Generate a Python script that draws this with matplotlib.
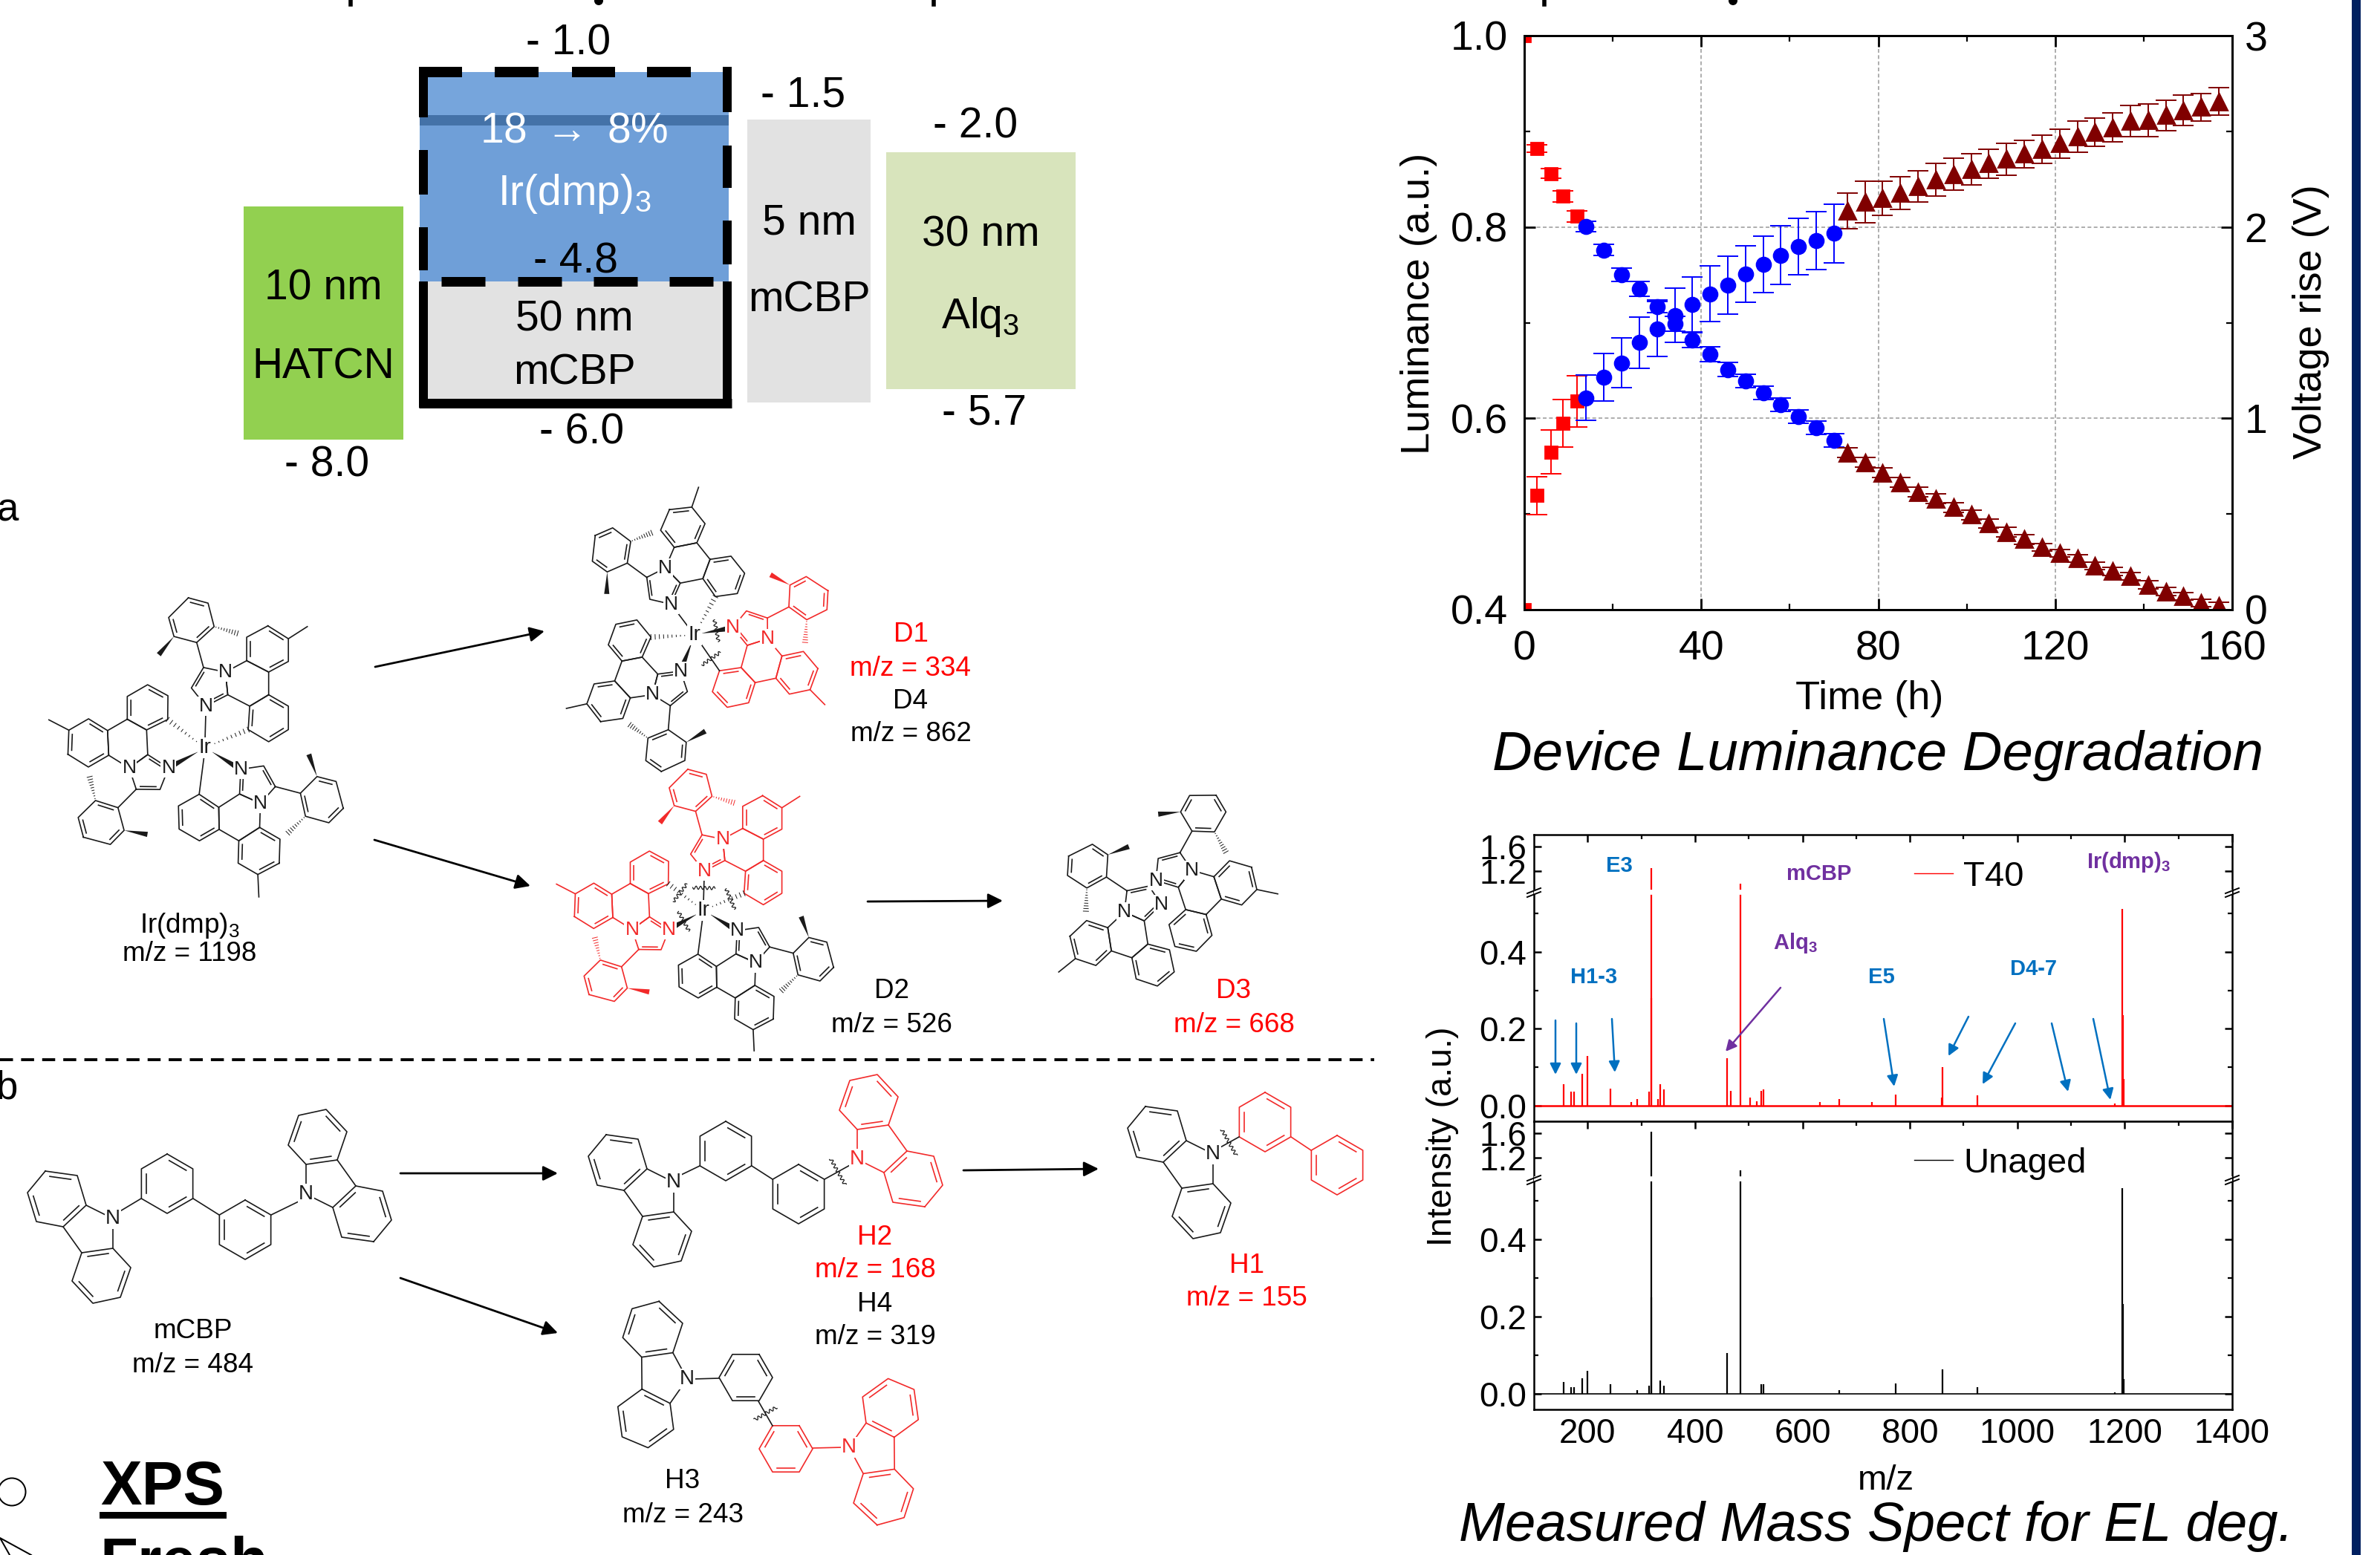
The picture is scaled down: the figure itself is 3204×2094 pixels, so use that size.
import numpy as np
import matplotlib
matplotlib.use("Agg")
import matplotlib.pyplot as plt
from matplotlib.patches import Rectangle, Polygon, Circle
from matplotlib.ticker import FixedLocator

plt.rcParams["font.family"] = ["Liberation Sans", "DejaVu Sans"]
plt.rcParams["mathtext.fontset"] = "custom"
plt.rcParams["mathtext.rm"] = "Liberation Sans"
plt.rcParams["mathtext.it"] = "Liberation Sans:italic"
plt.rcParams["mathtext.bf"] = "Liberation Sans:bold"
plt.rcParams["mathtext.default"] = "regular"

W, H = 3204, 2094
PT = 72 / 200  # one output pixel in points

# luminance / voltage degradation
t_red = [0, 2.9, 6, 8.8, 12]
lum_red = [1.0, 0.882, 0.856, 0.832, 0.811]
lum_red_err = [0, 0.0039, 0.0052, 0.0058, 0.0062]
volt_red = [0, 0.596, 0.824, 0.974, 1.089]
volt_red_err = [0, 0.100, 0.114, 0.125, 0.134]

t_blue = [14, 18, 22, 26, 30, 34, 38, 42, 46, 50, 54, 58, 62, 66, 70]
lum_blue = [0.8006, 0.776, 0.750, 0.735, 0.717, 0.699, 0.682, 0.667, 0.651, 0.639, 0.627, 0.614, 0.602, 0.590, 0.577]
lum_blue_err = [0.0054, 0.006, 0.0068, 0.0078, 0.0068, 0.0078, 0.0078, 0.0074, 0.0074, 0.007, 0.007, 0.007, 0.007, 0.007, 0.007]
volt_blue = [1.108, 1.215, 1.289, 1.396, 1.467, 1.538, 1.596, 1.651, 1.696, 1.753, 1.806, 1.853, 1.898, 1.929, 1.966]
volt_blue_err = [0.119, 0.125, 0.130, 0.134, 0.144, 0.142, 0.144, 0.144, 0.150, 0.147, 0.147, 0.152, 0.147, 0.150, 0.152]

t_dark = [73, 77, 81, 85, 89, 93, 97, 101, 105, 109, 113, 117, 121, 125, 129, 133, 137, 141, 145, 149, 153, 157]
lum_dark = [0.564, 0.554, 0.543, 0.533, 0.523, 0.516, 0.507, 0.499, 0.490, 0.481, 0.4735, 0.465, 0.459, 0.4535, 0.446, 0.440, 0.435, 0.426, 0.419, 0.414, 0.407, 0.404]
lum_dark_err = [0.005, 0.005, 0.005, 0.005, 0.005, 0.005, 0.005, 0.005, 0.005, 0.005, 0.005, 0.004, 0.004, 0.004, 0.004, 0.004, 0.004, 0.004, 0.004, 0.004, 0.004, 0.004]
volt_dark = [2.084, 2.131, 2.150, 2.178, 2.213, 2.247, 2.276, 2.302, 2.331, 2.354, 2.381, 2.407, 2.436, 2.472, 2.496, 2.520, 2.554, 2.559, 2.583, 2.609, 2.627, 2.656]
volt_dark_err = [0.094, 0.109, 0.091, 0.085, 0.081, 0.087, 0.083, 0.081, 0.076, 0.084, 0.072, 0.073, 0.076, 0.08, 0.073, 0.075, 0.08, 0.085, 0.079, 0.08, 0.072, 0.072]

# mass spectra
mz_t40 = [155, 169, 174, 190, 200, 243, 281, 292, 314, 318, 319, 331, 335, 342, 459, 467, 485, 503, 515, 523, 527, 633, 668, 729, 773, 859, 861, 926, 1181, 1196, 1197, 1198]
int_t40 = [0.055, 0.036, 0.037, 0.082, 0.13, 0.045, 0.01, 0.017, 0.036, 1.247, 0.28, 0.017, 0.055, 0.042, 0.123, 0.039, 0.996, 0.02, 0.011, 0.039, 0.042, 0.01, 0.017, 0.01, 0.029, 0.02, 0.10, 0.027, 0.006, 0.513, 0.235, 0.07]
mz_unaged = [155, 169, 174, 190, 200, 243, 292, 314, 318, 319, 335, 342, 459, 485, 523, 527, 668, 773, 861, 926, 1181, 1196, 1197, 1198]
int_unaged = [0.031, 0.016, 0.016, 0.04, 0.06, 0.024, 0.009, 0.02, 1.63, 0.25, 0.035, 0.021, 0.106, 1.004, 0.024, 0.024, 0.009, 0.026, 0.062, 0.016, 0.004, 0.532, 0.232, 0.038]

fig = plt.figure(figsize=(W / 200, H / 200), dpi=200)


def ax_px(x0, y0, x1, y1, **kw):
    return fig.add_axes([x0 / W, 1 - y1 / H, (x1 - x0) / W, (y1 - y0) / H], **kw)


# ---- luminance chart
ax1 = ax_px(2052, 48, 3005, 821)
ax2 = ax1.twinx()
ax1.set_xlim(0, 160)
ax1.set_ylim(0.4, 1.0)
ax2.set_ylim(0, 3)
ax1.set_xticks([0, 40, 80, 120, 160])
ax1.set_xticks([20, 60, 100, 140], minor=True)
ax1.set_yticks([0.4, 0.6, 0.8, 1.0])
ax1.set_yticks([0.5, 0.7, 0.9], minor=True)
ax2.set_yticks([0, 1, 2, 3])
ax2.set_yticks([0.5, 1.5, 2.5], minor=True)
ax1.grid(True, which="major", color="#a0a0a0", ls=(0, (3, 2)), lw=0.6)
ax1.tick_params(axis="x", which="both", direction="in", top=True, labelsize=20, pad=10)
ax1.tick_params(axis="y", which="both", direction="in", labelsize=20, pad=8)
ax2.tick_params(axis="y", which="both", direction="in", labelsize=20, pad=6)
for a in (ax1, ax2):
    a.tick_params(which="major", length=5.4, width=1)
    a.tick_params(which="minor", length=3, width=0.8)
    for s in a.spines.values():
        s.set_linewidth(1)

series = [(t_red, lum_red, lum_red_err, volt_red, volt_red_err, "s", 6, "#ff0000"),
          (t_blue, lum_blue, lum_blue_err, volt_blue, volt_blue_err, "o", 6.8, "#0000ff"),
          (t_dark, lum_dark, lum_dark_err, volt_dark, volt_dark_err, "^", 8, "#800000")]
for t, lum, lum_e, volt, volt_e, mk, ms, col in series:
    ax1.errorbar(t, lum, yerr=lum_e, fmt=mk, ms=ms, color=col, ecolor=col, elinewidth=0.7, capsize=4.9, capthick=0.7)
    ax2.errorbar(t, volt, yerr=volt_e, fmt=mk, ms=ms, color=col, ecolor=col, elinewidth=0.7, capsize=4.9, capthick=0.7)

# ---- mass spectra, y axis has a break
break_y = [-0.041, 0.553, 0.886, 1.796]
break_pos = [0, 475, 481, 597]


def to_pos(y):
    return np.interp(y, break_y, break_pos)


def from_pos(p):
    return np.interp(p, break_pos, break_y)


panels = [(ax_px(2065, 1124, 3005, 1510), mz_t40, int_t40, "#ff0000", "T40", 0.9),
          (ax_px(2065, 1510, 3005, 1898), mz_unaged, int_unaged, "#000000", "Unaged", 0.6)]
for ax, mz, inten, col, name, base_lw in panels:
    ax.set_xlim(100, 1400)
    ax.set_yscale("function", functions=(to_pos, from_pos))
    ax.set_ylim(-0.041, 1.796)
    ax.yaxis.set_major_locator(FixedLocator([0, 0.2, 0.4, 1.2, 1.6]))
    ax.yaxis.set_minor_locator(FixedLocator([0.1, 0.3, 0.5]))
    ax.set_yticklabels(["0.0", "0.2", "0.4", "1.2", "1.6"])
    ax.set_xticks([200, 400, 600, 800, 1000, 1200, 1400])
    ax.set_xticks([300, 500, 700, 900, 1100, 1300], minor=True)
    ax.tick_params(axis="x", which="both", direction="in", top=True, bottom=False, labelsize=16.5, pad=4)
    ax.tick_params(axis="y", which="both", direction="in", right=True, labelsize=16.5, pad=3.5)
    ax.tick_params(which="major", length=3.5, width=0.9)
    ax.tick_params(which="minor", length=2, width=0.8)
    for s in ax.spines.values():
        s.set_linewidth(0.9)
    ax.vlines(mz, 0, inten, color=col, lw=0.8)
    ax.plot([100, 1400], [0, 0], color=col, lw=base_lw)
    ax.axhspan(0.553, 0.886, color="white", zorder=3)
    ax.plot([], [], color=col, lw=0.5, label=name)
    ax.legend(loc="upper left", bbox_to_anchor=(0.545, 0.91), frameon=False, fontsize=17, borderpad=0,
              borderaxespad=0, handlelength=1.1, handletextpad=0.3, labelspacing=0)
panels[0][0].tick_params(axis="x", labelbottom=False)
panels[1][0].set_xlabel("m/z", fontsize=17)
panels[1][0].xaxis.set_label_coords((2539 - 2065) / 940, -(1972 - 1898) / 388)

ax1.set_xlabel("Time (h)", fontsize=19.5)
ax1.xaxis.set_label_coords((2517 - 2052) / 953, -(916 - 821) / 773)
ax1.set_ylabel("Luminance (a.u.)", fontsize=19.5)
ax1.yaxis.set_label_coords(-(2052 - 1906) / 953 + 0.03, (821 - 409) / 773)
ax2.set_ylabel("Voltage rise (V)", fontsize=19.5)
ax2.yaxis.set_label_coords((3113 - 2052 - 27) / 953, (821 - 433) / 773)

# ---- everything else is drawn on a full page layer in pixel coordinates
ov = fig.add_axes([0, 0, 1, 1], zorder=10)
ov.set_xlim(0, W)
ov.set_ylim(H, 0)
ov.axis("off")


def txt(x, y, s, size, color="black", **kw):
    kw.setdefault("ha", "center")
    kw.setdefault("va", "center")
    return ov.text(x, y + 4, s, fontsize=size, color=color, **kw)


def arrow(p0, p1, color="black", lw=1.0, scale=15):
    ov.annotate("", xy=p1, xytext=p0, arrowprops=dict(arrowstyle="-|>", color=color, lw=lw, mutation_scale=scale,
                                                      shrinkA=0, shrinkB=0))


# page marks
ov.add_patch(Rectangle((3166, 0), 12, H, color="#002060", lw=0))
for x in (472, 1257, 2079):
    ov.plot([x, x], [0, 6], color="black", lw=2)
for x in (806, 2333):
    ov.add_patch(Circle((x, 1), 6, color="black", lw=0))
txt(-4, 683, "a", 19, ha="left")
txt(-5, 1462, "b", 19, ha="left")
ov.plot([0, 1850], [1427, 1427], color="black", lw=1.4, dashes=(4.5, 2.8))

# energy level diagram
ov.add_patch(Rectangle((328, 278), 215, 314, color="#92d050", lw=0))
ov.add_patch(Rectangle((1006, 161), 166, 381, color="#e2e2e2", lw=0))
ov.add_patch(Rectangle((1193, 205), 255, 319, color="#d8e4bc", lw=0))
ov.add_patch(Rectangle((569, 379), 407, 160, color="#e2e2e2", lw=0))
ov.add_patch(Rectangle((565, 97), 416, 60, color="#76a5dc", lw=0))
ov.add_patch(Rectangle((565, 155), 416, 224, color="#6f9fd8", lw=0))
ov.add_patch(Rectangle((565, 155), 416, 14, color="#4472a8", lw=0))
frame_lw = 12 * PT
for x0, x1 in ((565, 622), (666, 725), (770, 828), (871, 930)):
    ov.plot([x0, x1], [97, 97], color="black", lw=14 * PT, solid_capstyle="butt")
for x0 in (594, 697, 799, 901):
    ov.plot([x0, x0 + 59], [379, 379], color="black", lw=13 * PT, solid_capstyle="butt")
for x, segs in ((570, ((90, 158), (202, 262), (306, 364))), (979, ((90, 151), (196, 253), (297, 356)))):
    for y0, y1 in segs:
        ov.plot([x, x], [y0, y1], color="black", lw=frame_lw, solid_capstyle="butt")
ov.plot([570, 570], [379, 549], color="black", lw=frame_lw, solid_capstyle="butt")
ov.plot([979, 979], [379, 549], color="black", lw=frame_lw, solid_capstyle="butt")
ov.plot([564, 985], [543, 543], color="black", lw=13 * PT, solid_capstyle="butt")

for x, y, s in ((765, 55, "- 1.0"), (1081, 125, "- 1.5"), (1313, 166, "- 2.0"), (775, 349, "- 4.8"),
                (1325, 553, "- 5.7"), (783, 579, "- 6.0"), (440, 623, "- 8.0"), (435, 385, "10 nm"),
                (435, 490, "HATCN"), (773, 426, "50 nm"), (773, 499, "mCBP"), (1089, 297, "5 nm"),
                (1089, 400, "mCBP"), (1320, 313, "30 nm"), (1320, 423, "Alq$_3$")):
    txt(x, y, s, 20.5)
txt(773, 173, r"18 $\rightarrow$ 8%", 20.5, "white")
txt(773, 257, "Ir(dmp)$_3$", 20.5, "white")

# XPS corner
txt(135, 2000, "XPS", 30, weight="bold", ha="left")
ov.add_patch(Rectangle((134, 2036), 171, 9, color="black", lw=0))
txt(134, 2064, "Fresh", 30, weight="bold", ha="left", va="top", clip_on=True)
ov.add_patch(Circle((16, 2009), 18.5, fill=False, ec="black", lw=2 * PT))
ov.plot([13, 0, 42], [2094, 2071, 2094], color="black", lw=2 * PT)

# ---- molecule line art
BOND = 0.6
RED = "#f22a2a"
DARK = "#1a1a1a"


def xf(pts, ox, oy, rot=0.0, mirror=False, scale=1.0):
    p = np.array(pts, dtype=float)
    if mirror:
        p[:, 0] = -p[:, 0]
    a = np.radians(rot)
    c, s = np.cos(a), np.sin(a)
    return np.column_stack((ox + scale * (p[:, 0] * c - p[:, 1] * s), oy + scale * (p[:, 0] * s + p[:, 1] * c)))


def ring(p, color, doubles=(0, 2, 4)):
    q = np.vstack((p, p[:1]))
    ov.plot(q[:, 0], q[:, 1], color=color, lw=BOND, solid_joinstyle="round")
    c = p.mean(axis=0)
    n = len(p)
    for i in doubles:
        a, b = p[i], p[(i + 1) % n]
        a2 = a + (c - a) * 0.18 + (b - a) * 0.08
        b2 = b + (c - b) * 0.18 + (a - b) * 0.08
        ov.plot([a2[0], b2[0]], [a2[1], b2[1]], color=color, lw=BOND)


def bond(a, b, color, kind="plain"):
    a, b = np.asarray(a, float), np.asarray(b, float)
    if kind == "plain":
        ov.plot([a[0], b[0]], [a[1], b[1]], color=color, lw=BOND)
        return
    d = b - a
    n = np.array([-d[1], d[0]]) / np.hypot(*d)
    if kind == "wedge":
        ov.add_patch(Polygon([a, b + n * 3.5, b - n * 3.5], color=color, lw=0))
    else:
        for f in np.linspace(0.08, 1, 9):
            m = a + d * f
            w = 3.5 * f
            ov.plot([m[0] - n[0] * w, m[0] + n[0] * w], [m[1] - n[1] * w, m[1] + n[1] * w], color=color, lw=0.35)


def wavy(a, b, color=DARK, f=0.55, half=15):
    a, b = np.asarray(a, float), np.asarray(b, float)
    d = b - a
    u = d / np.hypot(*d)
    n = np.array([-u[1], u[0]])
    c = a + d * f
    s = np.linspace(-half, half, 40)
    off = np.sin(s * 1.05) * 2.2
    ov.plot(c[0] + n[0] * s + u[0] * off, c[1] + n[1] * s + u[1] * off, color=color, lw=0.45)


def atom(p, s, color, size=9.5):
    ov.text(p[0], p[1], s, fontsize=size, color=color, ha="center", va="center",
            bbox=dict(fc="white", ec="none", pad=0.4), zorder=5)


TOLYL = [(83, -161), (110, -144), (110, -114), (84, -100), (55, -115), (55, -146)]
CENTRAL = [(55, -115), (84, -100), (84, -70), (59, -55), (30, -70), (27, -100)]
LOWER = [(84, -70), (110, -55), (110, -24), (84, -8), (57, -24), (59, -55)]
IMID = [(-2, -106), (27, -100), (30, -70), (1, -55), (-18, -79)]
ARYL = [(-22, -198), (4, -191), (12, -160), (-11, -139), (-41, -147), (-48, -172)]


def ligand(ox, oy, rot, color, n_kind="plain", c_kind="hash", cut=False, metal=True, mirror=False, scale=1.0):
    T = lambda pts: xf(pts, ox, oy, rot, mirror, scale)
    ring(T(TOLYL), color)
    ring(T(CENTRAL), color, doubles=())
    ring(T(LOWER), color)
    ring(T(IMID), color, doubles=(2, 4))
    ring(T(ARYL), color)
    e = T([(-11, -139), (-2, -106), (110, -144), (135, -160), (-41, -147), (-61, -123), (12, -160), (43, -151)])
    bond(e[0], e[1], color)
    bond(e[2], e[3], color)
    bond(e[4], e[5], color, "wedge")
    bond(e[6], e[7], color, "hash")
    m = T([(1, -46), (0, -10), (57, -24), (9, -4), (27, -100), (1, -55)])
    atom(m[4], "N", color)
    atom(m[5], "N", color)
    if metal:
        bond(m[1], m[0], DARK, n_kind)
        bond(m[3], m[2], DARK, c_kind)
        if cut:
            wavy(m[1], m[0], f=0.6)
            wavy(m[3], m[2], f=0.6)


def complex3(ox, oy, ligs, scale=1.0):
    for rot, col, n_kind, c_kind, cut in ligs:
        ligand(ox, oy, rot, col, n_kind, c_kind, cut, scale=scale)
    atom((ox, oy), "Ir", DARK, 10)


complex3(276, 1007, [(0, DARK, "plain", "hash", False), (-120, DARK, "wedge", "hash", False),
                     (120, DARK, "wedge", "plain", False)], scale=1.02)
complex3(935, 855, [(-38.6, DARK, "plain", "hash", False), (200, DARK, "wedge", "hash", False),
                    (78, RED, "wedge", "plain", True)], scale=0.95)
complex3(947, 1226, [(0, RED, "plain", "hash", True), (-120, RED, "wedge", "hash", True),
                     (120, DARK, "wedge", "plain", False)], scale=0.96)
# D3 dimer
ligand(1518, 1223, 44.4, DARK, metal=False, scale=0.97)
ligand(1614, 1234, -71.5, DARK, metal=False, mirror=True, scale=0.97)

CZ_UP = [(-91, -64), (-48, -58), (-36, -18), (-67, 11), (-103, 4), (-115, -35)]
CZ_LOW = [(-42, 46), (0, 40), (24, 66), (10, 106), (-27, 114), (-55, 84)]
CZ_FIVE = [(-36, -18), (-67, 11), (-42, 46), (0, 40)]


def carbazole(x, y, rot, color):
    T = lambda pts: xf(pts, x, y, rot)
    ring(T(CZ_UP), color)
    ring(T(CZ_LOW), color)
    f = T(CZ_FIVE)
    ov.plot([x, f[0, 0]], [y, f[0, 1]], color=color, lw=BOND)
    ov.plot([f[1, 0], f[2, 0]], [f[1, 1], f[2, 1]], color=color, lw=BOND)
    ov.plot([x, f[3, 0]], [y, f[3, 1]], color=color, lw=BOND)
    atom((x, y), "N", color, 10)


def benzene(cx, cy, color, r=40, rot=0):
    a = np.radians(np.arange(6) * 60 - 90 + rot)
    ring(np.column_stack((cx + r * np.cos(a), cy + r * np.sin(a))), color)


# mCBP
carbazole(152, 1641, 0, DARK)
benzene(225, 1594, DARK)
benzene(330, 1656, DARK)
carbazole(412, 1608, 180, DARK)
bond((152 + 8, 1632), (190, 1614), DARK)
bond((260, 1614), (295, 1636), DARK)
bond((365, 1636), (404, 1617), DARK)
# H2
carbazole(907, 1592, 0, DARK)
benzene(977, 1550, DARK)
benzene(1075, 1608, DARK)
carbazole(1154, 1561, 180, RED)
bond((915, 1583), (942, 1570), DARK)
bond((1012, 1570), (1040, 1588), DARK)
bond((1110, 1588), (1146, 1568), DARK)
wavy((1110, 1588), (1146, 1568), f=0.5, half=20)
# H1
carbazole(1633, 1554, 0, DARK)
benzene(1703, 1511, RED)
benzene(1800, 1569, RED)
bond((1641, 1546), (1668, 1531), DARK)
wavy((1641, 1546), (1668, 1531), f=0.5, half=20)
bond((1738, 1531), (1765, 1549), RED)
# H3
carbazole(925, 1857, 35, DARK)
benzene(1004, 1855, DARK, r=36, rot=30)
carbazole(1143, 1949, -145, RED)
benzene(1058, 1951, RED, r=36, rot=30)
bond((933, 1857), (968, 1856), DARK)
bond((1094, 1950), (1135, 1949), RED)
bond((1021, 1887), (1040, 1920), DARK)
wavy((1021, 1887), (1040, 1920), f=0.5, half=17)

for p0, p1 in (((505, 898), (733, 850)), ((504, 1131), (714, 1193)), ((1168, 1214), (1350, 1213)),
               ((539, 1580), (751, 1580)), ((1297, 1576), (1479, 1574)), ((539, 1721), (751, 1795))):
    arrow(p0, p1)

# molecule captions
for x, y, s, col in ((255, 1243, "Ir(dmp)$_3$", "black"), (255, 1280, "m/z = 1198", "black"),
                     (1226, 851, "D1", "red"), (1226, 896, "m/z = 334", "red"), (1226, 940, "D4", "black"),
                     (1226, 985, "m/z = 862", "black"), (1200, 1330, "D2", "black"), (1200, 1376, "m/z = 526", "black"),
                     (1661, 1330, "D3", "red"), (1661, 1376, "m/z = 668", "red"), (260, 1788, "mCBP", "black"),
                     (260, 1834, "m/z = 484", "black"), (1178, 1662, "H2", "red"), (1178, 1707, "m/z = 168", "red"),
                     (1178, 1753, "H4", "black"), (1178, 1797, "m/z = 319", "black"), (1678, 1700, "H1", "red"),
                     (1678, 1745, "m/z = 155", "red"), (919, 1991, "H3", "black"), (919, 2036, "m/z = 243", "black")):
    txt(x, y, s, 13.3, col)

# chart labels and annotations
txt(2528, 1013, "Device Luminance Degradation", 26.8, style="italic")
txt(2526, 2052, "Measured Mass Spect for EL deg.", 26.8, style="italic")
txt(1942, 1526, "Intensity (a.u.)", 16.8, rotation=90)

BLUE = "#0070c0"
PURPLE = "#7030a0"
for x, y, s in ((2180, 1162, "E3"), (2146, 1312, "H1-3"), (2533, 1312, "E5"), (2738, 1301, "D4-7")):
    txt(x, y, s, 10.5, BLUE, weight="bold")
txt(2449, 1173, "mCBP", 10.5, PURPLE, weight="bold")
txt(2417, 1266, r"Alq$_{\mathbf{3}}$", 10.5, PURPLE, weight="bold")
txt(2866, 1157, r"Ir(dmp)$_{\mathbf{3}}$", 10.5, PURPLE, weight="bold")
for p0, p1 in (((2094, 1374), (2094, 1447)), ((2122, 1378), (2122, 1447)), ((2170, 1372), (2174, 1444)),
               ((2536, 1372), (2550, 1463)), ((2650, 1369), (2623, 1422)), ((2713, 1378), (2669, 1460)),
               ((2762, 1378), (2784, 1470)), ((2818, 1372), (2841, 1481))):
    arrow(p0, p1, BLUE, 0.9, 11)
arrow((2397, 1330), (2323, 1416), PURPLE, 0.9, 11)

# axis break marks
for x in (2065, 3005):
    for y in (1201, 1588):
        ov.plot([x - 9, x + 9], [y + 2, y - 5], color="black", lw=0.7)
        ov.plot([x - 9, x + 9], [y + 7, y], color="black", lw=0.7)

fig.savefig("out.png", dpi=200)
